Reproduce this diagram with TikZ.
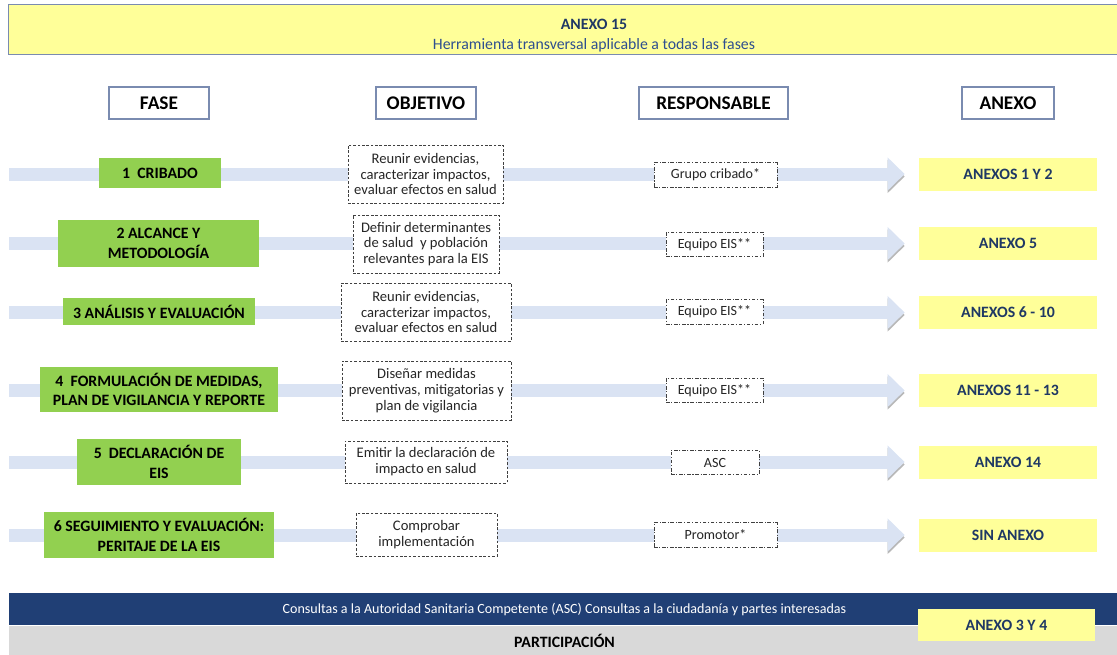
\documentclass[tikz,border=0pt]{standalone}
\usepackage{fontspec}
\setmainfont{Carlito}
\usetikzlibrary{arrows.meta, backgrounds}

\definecolor{verdefase}{HTML}{92D050}
\definecolor{amarilloanexo}{HTML}{FFFF99}
\definecolor{azultexto}{HTML}{1F3864}
\definecolor{azulsub}{HTML}{2F4F8F}
\definecolor{azulbarra}{HTML}{203F75}
\definecolor{grisbarra}{HTML}{D9D9D9}
\definecolor{azulflecha}{HTML}{DAE3F3}
\definecolor{sombraflecha}{HTML}{B8B8B8}
\definecolor{bordeazul}{HTML}{7A8BB0}

\tikzstyle{banner} = [rectangle, fill=amarilloanexo, minimum width=23.4cm, minimum height=0.98cm, inner ysep=0pt, align=center, font=\fontsize{9}{11.4}\selectfont]
\tikzstyle{titulo} = [rectangle, draw=bordeazul, line width=0.8pt, fill=white, minimum height=0.64cm, text centered, font=\fontsize{11}{13}\selectfont\bfseries]
\tikzstyle{fase} = [rectangle, fill=verdefase, align=center, font=\fontsize{9}{11}\selectfont\bfseries]
\tikzstyle{objetivo} = [rectangle, draw=black!75, dash pattern=on 1.5pt off 1pt, line width=0.4pt, fill=white, align=center, text=black!85, font=\fontsize{8.3}{9}\selectfont]
\tikzstyle{responsable} = [rectangle, draw=black!75, dash pattern=on 2pt off 1pt on 0.6pt off 1pt, line width=0.4pt, fill=white, minimum height=0.49cm, text centered, text=black!85, font=\fontsize{8}{9.2}\selectfont]
\tikzstyle{anexo} = [rectangle, fill=amarilloanexo, minimum width=3.56cm, minimum height=0.66cm, text=azultexto, text centered, font=\fontsize{9}{11}\selectfont\bfseries]
\tikzstyle{barra} = [rectangle, minimum width=22.22cm, text centered]
\tikzstyle{flecha} = [line width=0.26cm, draw=azulflecha, -{Triangle[width=0.64cm,length=0.34cm]}, shorten >=0.28cm, preaction={draw=sombraflecha, transform canvas={yshift=-0.05cm}}]

\begin{document}
\begin{tikzpicture}[x=0.02cm, y=-0.02cm]
\useasboundingbox (0,0) rectangle (1117,654);

% cabecera
\node (anexo15) [banner] at (594,29.5) {\rule{0pt}{12.5pt}\textcolor{azultexto}{\bfseries ANEXO 15}\\\textcolor{azulsub}{Herramienta transversal aplicable a todas las fases}};
\draw [bordeazul, line width=0.8pt] (anexo15.north east) -- (anexo15.north west) -- (anexo15.south west) -- (anexo15.south east);

\node (cabfase) [titulo, minimum width=2cm] at (159,103) {FASE};
\node (cabobjetivo) [titulo, minimum width=2cm] at (426,103) {OBJETIVO};
\node (cabresponsable) [titulo, minimum width=2.98cm] at (713.5,103) {RESPONSABLE};
\node (cabanexo) [titulo, minimum width=1.84cm] at (1008,103) {ANEXO};

% fases
\node (fase1) [fase, minimum width=2.44cm, minimum height=0.6cm] at (160,173) {1\ \ CRIBADO};
\node (obj1) [objetivo, minimum width=3.1cm, minimum height=1.16cm] at (425.5,174) {Reunir evidencias,\\caracterizar impactos,\\evaluar efectos en salud};
\node (resp1) [responsable, minimum width=2.46cm] at (715.5,175) {Grupo cribado*};
\node (anexo1) [anexo] at (1008,174) {ANEXOS 1 Y 2};

\node (fase2) [fase, minimum width=4.02cm, minimum height=0.94cm] at (158.5,243.5) {2 ALCANCE Y\\METODOLOGÍA};
\node (obj2) [objetivo, minimum width=2.92cm, minimum height=1.16cm] at (426,244) {Definir determinantes\\de salud\ \ y población\\relevantes para la EIS};
\node (resp2) [responsable, minimum width=1.94cm] at (714.5,244.5) {Equipo EIS**};
\node (anexo2) [anexo] at (1008,243.5) {ANEXO 5};

\node (fase3) [fase, minimum width=3.84cm, minimum height=0.54cm] at (159,311.5) {3 ANÁLISIS Y EVALUACIÓN};
\node (obj3) [objetivo, minimum width=3.4cm, minimum height=1.16cm] at (426,312) {Reunir evidencias,\\caracterizar impactos,\\evaluar efectos en salud};
\node (resp3) [responsable, minimum width=1.94cm] at (714.5,312) {Equipo EIS**};
\node (anexo3) [anexo] at (1008,312.5) {ANEXOS 6 - 10};

\node (fase4) [fase, minimum width=4.76cm, minimum height=0.9cm] at (159,389.5) {4\ \ FORMULACIÓN DE MEDIDAS,\\PLAN DE VIGILANCIA Y REPORTE};
\node (obj4) [objetivo, minimum width=3.38cm, minimum height=1.18cm] at (426.5,390.5) {Diseñar medidas\\preventivas, mitigatorias y\\plan de vigilancia};
\node (resp4) [responsable, minimum width=1.94cm] at (714.5,390.5) {Equipo EIS**};
\node (anexo4) [anexo] at (1008,390.5) {ANEXOS 11 - 13};

\node (fase5) [fase, minimum width=3.28cm, minimum height=0.92cm] at (159,462) {5\ \ DECLARACIÓN DE\\EIS};
\node (obj5) [objetivo, minimum width=3.24cm, minimum height=0.84cm] at (426,462) {Emitir la declaración de\\impacto en salud};
\node (resp5) [responsable, minimum width=1.76cm] at (715,462.5) {ASC};
\node (anexo5) [anexo] at (1008,462) {ANEXO 14};

\node (fase6) [fase, minimum width=4.6cm, minimum height=0.92cm] at (159,535) {6 SEGUIMIENTO Y EVALUACIÓN:\\PERITAJE DE LA EIS};
\node (obj6) [objetivo, minimum width=2.82cm, minimum height=0.86cm] at (426.5,534.5) {Comprobar\\implementación};
\node (resp6) [responsable, minimum width=2.46cm] at (715.5,535) {Promotor*};
\node (anexo6) [anexo] at (1008,535) {SIN ANEXO};

% participacion
\node (consultas) [barra, fill=azulbarra, minimum height=0.64cm, text=white, font=\fontsize{8}{9}\selectfont] at (564.5,609) {Consultas a la Autoridad Sanitaria Competente (ASC) Consultas a la ciudadanía y partes interesadas};
\node (participacion) [barra, fill=grisbarra, minimum height=0.62cm, font=\fontsize{9}{11}\selectfont\bfseries] at (564.5,641) {PARTICIPACIÓN};
\node (anexo34) [anexo, minimum width=3.54cm, minimum height=0.64cm] at (1006.5,625) {ANEXO 3 Y 4};

% flechas
\coordinate (ini1) at (9,174);
\coordinate (ini2) at (9,243.5);
\coordinate (ini3) at (9,312.5);
\coordinate (ini4) at (9,390.5);
\coordinate (ini5) at (9,462);
\coordinate (ini6) at (9,535);
\begin{scope}[on background layer]
\draw [flecha] (ini1) -- (anexo1);
\draw [flecha] (ini2) -- (anexo2);
\draw [flecha] (ini3) -- (anexo3);
\draw [flecha] (ini4) -- (anexo4);
\draw [flecha] (ini5) -- (anexo5);
\draw [flecha] (ini6) -- (anexo6);
\end{scope}

\end{tikzpicture}
\end{document}
